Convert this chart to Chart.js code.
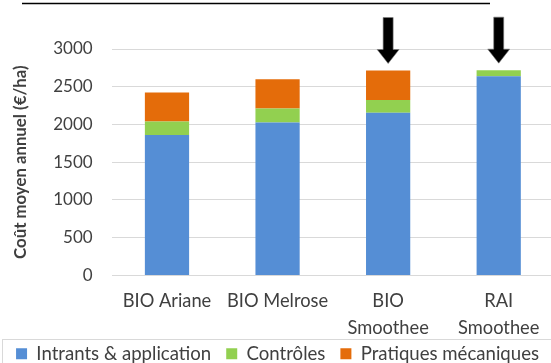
<!DOCTYPE html>
<html lang="fr">
<head>
<meta charset="utf-8">
<script src="https://cdn.jsdelivr.net/npm/chart.js@4/dist/chart.umd.min.js"></script>
<style>
  html, body { margin: 0; padding: 0; background: #fff; overflow: hidden; }
  #wrap { position: relative; width: 551px; height: 363px; overflow: hidden; }
  canvas { display: block; }
</style>
</head>
<body>
<div id="wrap"><canvas id="chart" width="554" height="373"></canvas></div>
<script>
// Coût moyen annuel par itinéraire (€/ha), décomposé en trois postes
const categories = ['BIO Ariane', 'BIO Melrose', ['BIO', 'Smoothee'], ['RAI', 'Smoothee']];
const intrants   = [1860, 2025, 2155, 2640];
const controles  = [180, 185, 170, 80];
const mecaniques = [385, 390, 390, 0];
const seriesNames = ['Intrants & application', 'Contrôles', 'Pratiques mécaniques'];
const highlighted = [false, false, true, true];   // itinéraires signalés par une flèche
const yTicks = { min: 0, max: 3000, step: 500 };

const TEXT = '#404040';
const GRID = '#d9d9d9';
const FONT = 'Lato, "Open Sans", sans-serif';

// Flèches noires au-dessus des barres signalées + filet de titre + cadre de légende
const decorations = {
  id: 'decorations',
  afterLayout(chart) {
    // laisse de la place à la deuxième ligne des libellés de catégories
    const xs = chart.scales.x;
    xs.bottom = xs.top + 66;
  },
  afterDraw(chart) {
    const ctx = chart.ctx;
    const xs = chart.scales.x, ys = chart.scales.y;
    ctx.save();
    // filet souligné du titre
    ctx.strokeStyle = '#000';
    ctx.lineWidth = 1.5;
    ctx.beginPath();
    ctx.moveTo(22, 3.5);
    ctx.lineTo(490, 3.5);
    ctx.stroke();

    // cadre de la légende
    ctx.strokeStyle = GRID;
    ctx.lineWidth = 1;
    ctx.strokeRect(2.5, 339.5, 700, 100);

    // flèches
    highlighted.forEach((on, i) => {
      if (!on) return;
      const total = intrants[i] + controles[i] + mecaniques[i];
      const cx = xs.getPixelForValue(i);
      const tip = ys.getPixelForValue(total) - 7;
      const headLen = 14, headHalf = 11, shaftHalf = 5, len = 46;
      ctx.beginPath();
      ctx.moveTo(cx - shaftHalf, tip - len);
      ctx.lineTo(cx + shaftHalf, tip - len);
      ctx.lineTo(cx + shaftHalf, tip - headLen);
      ctx.lineTo(cx + headHalf, tip - headLen);
      ctx.lineTo(cx, tip);
      ctx.lineTo(cx - headHalf, tip - headLen);
      ctx.lineTo(cx - shaftHalf, tip - headLen);
      ctx.closePath();
      ctx.fillStyle = '#000';
      ctx.fill();
      ctx.strokeStyle = '#7f7f7f';
      ctx.lineWidth = 0.6;
      ctx.stroke();
    });
    ctx.restore();
  }
};

new Chart(document.getElementById('chart'), {
  type: 'bar',
  data: {
    labels: categories,
    datasets: [
      { label: seriesNames[0], data: intrants,   backgroundColor: '#558ed5' },
      { label: seriesNames[1], data: controles,  backgroundColor: '#92d050' },
      { label: seriesNames[2], data: mecaniques, backgroundColor: '#e46c0a' }
    ]
  },
  options: {
    responsive: false,
    animation: false,
    devicePixelRatio: 1,
    layout: { padding: { top: 49, left: 0, right: 0, bottom: 0 } },
    datasets: { bar: { barPercentage: 0.4, categoryPercentage: 1.0 } },
    plugins: {
      title: { display: false },
      tooltip: { enabled: false },
      legend: {
        position: 'bottom',
        align: 'end',
        labels: {
          boxWidth: 11,
          boxHeight: 11,
          padding: 15,
          color: TEXT,
          font: { family: FONT, size: 18.6 }
        }
      }
    },
    scales: {
      x: {
        stacked: true,
        grid: { display: false, drawTicks: false },
        border: { display: false },
        ticks: {
          color: TEXT,
          padding: 12,
          maxRotation: 0,
          autoSkip: false,
          font: { family: FONT, size: 18.3, lineHeight: 1.475 }
        },
        afterFit(scale) { scale.height = 54; }
      },
      y: {
        stacked: true,
        min: yTicks.min,
        max: yTicks.max,
        grid: { color: GRID, lineWidth: 1, drawTicks: false },
        border: { display: false },
        ticks: {
          stepSize: yTicks.step,
          color: TEXT,
          padding: 19,
          font: { family: FONT, size: 17 },
          callback: (v) => String(v)
        },
        title: {
          display: true,
          text: 'Coût moyen annuel (€/ha)',
          color: TEXT,
          padding: { top: 10.5, bottom: 0 },
          font: { family: FONT, size: 16.8, weight: 'bold' }
        },
        afterFit(scale) { scale.width = 111.7; }
      }
    }
  },
  plugins: [decorations]
});
</script>
</body>
</html>
